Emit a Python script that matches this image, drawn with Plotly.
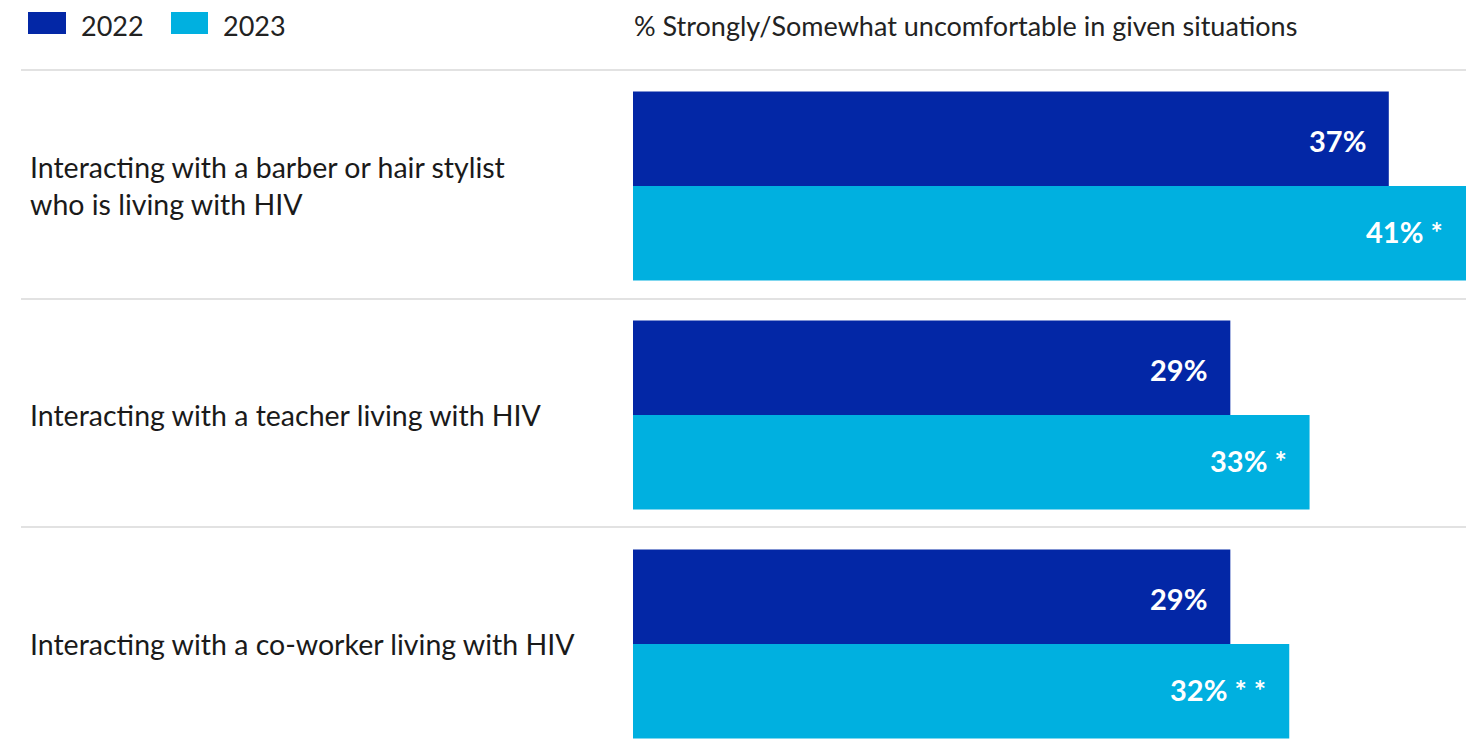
import plotly.graph_objects as go

W, H = 1483, 740
OFF = 8  # page body margin shifts the figure by this much

situations = [
    "Interacting with a barber or hair stylist<br>who is living with HIV",
    "Interacting with a teacher living with HIV",
    "Interacting with a co-worker living with HIV",
]
years = ["2022", "2023"]
# bar lengths (labels are the rounded figures)
pct_2022 = [37.2, 29.4, 29.4]
pct_2023 = [41.0, 33.3, 32.3]
labels_2022 = ["37%", "29%", "29%"]
labels_2023 = ["41% *", "33% *", "32% * *"]
subtitle = "% Strongly/Somewhat uncomfortable in given situations"

colors = ["#0327A6", "#00B0E0"]
FONT = "Lato"


def px_x(p):
    return (p - OFF) / W


def px_y(p):
    return 1 - (p - OFF) / H


fig = go.Figure()
for name, vals, col in zip(years, [pct_2022, pct_2023], colors):
    fig.add_trace(go.Bar(
        y=situations, x=vals, name=name, orientation="h",
        marker=dict(color=col, line=dict(width=0)),
        showlegend=False, hoverinfo="skip",
    ))

fig.update_layout(
    width=W, height=H,
    margin=dict(l=0, r=0, t=0, b=0),
    paper_bgcolor="white", plot_bgcolor="white",
    barmode="group", bargap=0.175, bargroupgap=0,
    font=dict(family=FONT, color="#222222"),
    xaxis=dict(domain=[(633 - OFF) / W, 1], range=[0, 42.23], visible=False),
    yaxis=dict(domain=[0, 1], range=[2.454, -0.777], visible=False),
)

annotations = []
shapes = []

# category labels on the left
for s in situations:
    annotations.append(dict(
        x=px_x(28), xref="paper", y=s, yref="y", text=s,
        xanchor="left", yanchor="middle", align="left", showarrow=False,
        font=dict(size=28.5, color="#1a1a1a", family=FONT),
    ))

# value labels inside bars
for vals, labs, off in [(pct_2022, labels_2022, -0.2), (pct_2023, labels_2023, 0.2)]:
    for i, (v, lab) in enumerate(zip(vals, labs)):
        annotations.append(dict(
            x=v, y=i + off, xref="x", yref="y", text="<b>" + lab + "</b>",
            xanchor="right", yanchor="middle", xshift=-21, showarrow=False,
            font=dict(size=29, color="white", family=FONT),
        ))

# separators
for yp in [70, 299, 527]:
    shapes.append(dict(
        type="line", xref="paper", yref="paper",
        x0=px_x(21), x1=px_x(1466), y0=px_y(yp), y1=px_y(yp),
        line=dict(color="#E2E2E2", width=2),
    ))

# legend
for (x0, x1, tx), name, col in zip([(28, 66, 80), (171, 208, 222)], years, colors):
    shapes.append(dict(
        type="rect", xref="paper", yref="paper",
        x0=px_x(x0), x1=px_x(x1), y0=px_y(34), y1=px_y(12),
        fillcolor=col, line=dict(width=0),
    ))
    annotations.append(dict(
        x=px_x(tx), y=px_y(26), xref="paper", yref="paper", text=name,
        xanchor="left", yanchor="middle", showarrow=False, borderpad=0,
        font=dict(size=27, color="#222222", family=FONT),
    ))

annotations.append(dict(
    x=px_x(633), y=px_y(26), xref="paper", yref="paper", text=subtitle,
    xanchor="left", yanchor="middle", showarrow=False, borderpad=0,
    font=dict(size=27, color="#222222", family=FONT),
))

fig.update_layout(annotations=annotations, shapes=shapes)

fig.write_html("out.html")
